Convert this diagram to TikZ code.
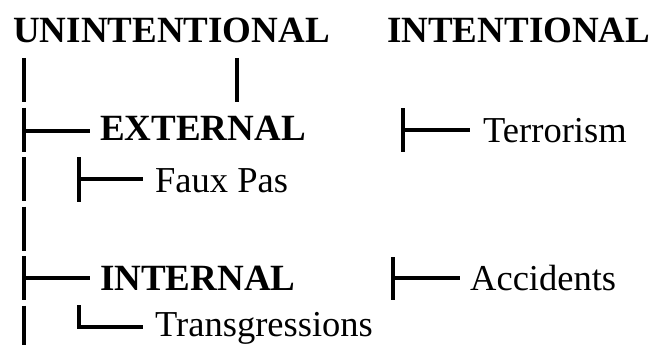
\documentclass[tikz,border=0pt]{standalone}
\usepackage{fontspec}
\setmainfont{Liberation Serif}
\usetikzlibrary{positioning}
\tikzset{
  lbl/.style={anchor=base west, inner sep=0pt, font=\fontsize{36.5}{40}\selectfont},
  head/.style={lbl, font=\fontsize{37}{40}\selectfont\bfseries},
  bar/.style={line width=3.2pt}
}

\begin{document}
\begin{tikzpicture}[x=1pt, y=-1pt]
  \useasboundingbox (0,0) rectangle (653,345);
  % column headings
  \node[head] (unint) at (13,43) {UNINTENTIONAL};
  \node[head] (inten) at (387,43) {INTENTIONAL};
  % entries
  \node[head] (ext) at (100,140) {EXTERNAL};
  \node[lbl] (terr) at (483,142) {Terrorism};
  \node[lbl] (faux) at (155,192) {Faux Pas};
  \node[head] (int) at (100,290) {INTERNAL};
  \node[lbl] (acc) at (470,290) {Accidents};
  \node[lbl] (trans) at (155,336) {Transgressions};
  % main stem, one piece per line
  \foreach \r in {0,...,5}
    \draw[bar] (24,58+49.5*\r) -- (24,102+49.5*\r);
  \draw[bar] (237,58) -- (237,102);
  % branches
  \draw[bar] (24,131) -- (90,131);
  \draw[bar] (24,278) -- (90,278);
  \draw[bar] (79,157) -- (79,202);
  \draw[bar] (79,179) -- (143,179);
  \draw[bar] (79,305) -- (79,327) -- (143,327);
  \draw[bar] (403,108) -- (403,152);
  \draw[bar] (403,130) -- (470,130);
  \draw[bar] (393,257) -- (393,300);
  \draw[bar] (393,278) -- (460,278);
\end{tikzpicture}
\end{document}
